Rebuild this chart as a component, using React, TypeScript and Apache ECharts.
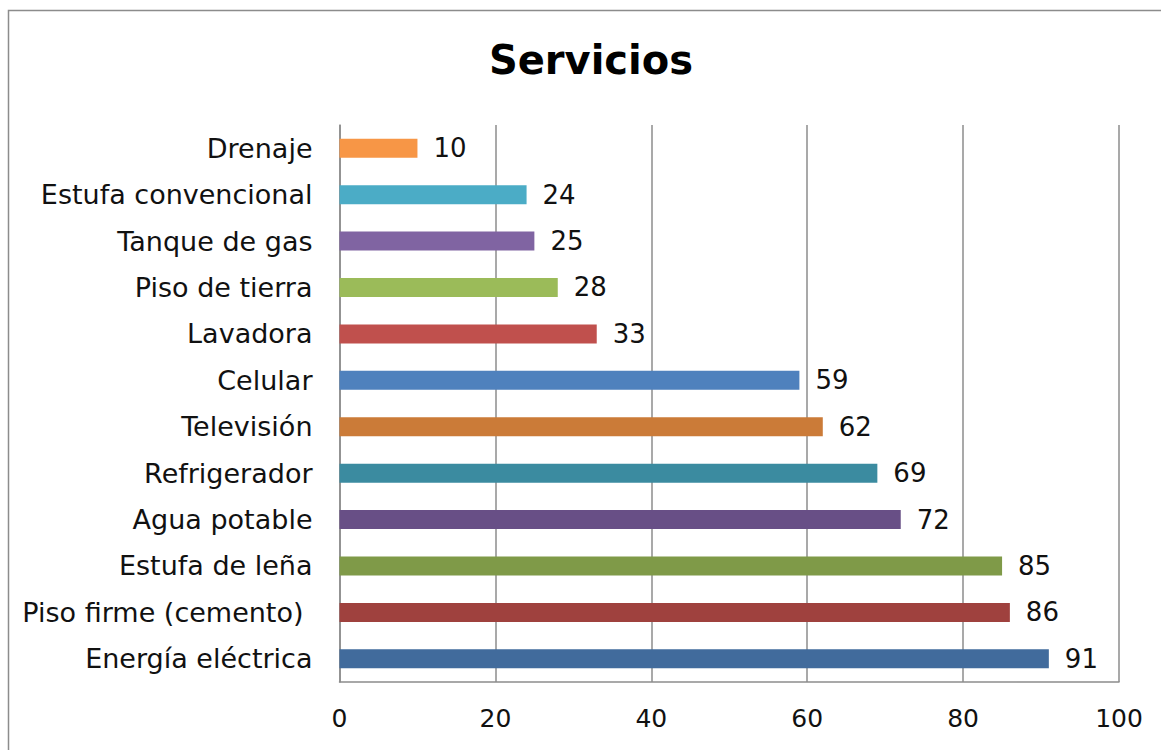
import React, { useEffect, useRef } from "react";
import * as echarts from "echarts";

const categories = [
  "Energía eléctrica",
  "Piso firme (cemento)",
  "Estufa de leña",
  "Agua potable",
  "Refrigerador",
  "Televisión",
  "Celular",
  "Lavadora",
  "Piso de tierra",
  "Tanque de gas",
  "Estufa convencional",
  "Drenaje",
];
const values = [91, 86, 85, 72, 69, 62, 59, 33, 28, 25, 24, 10];
const barColors = [
  "#416B9C",
  "#9F413E",
  "#7F9A48",
  "#684F86",
  "#3B8BA0",
  "#CB7B38",
  "#4F81BD",
  "#C0504D",
  "#9BBB59",
  "#8064A2",
  "#4BACC6",
  "#F79646",
];
const xTicks = [0, 20, 40, 60, 80, 100];

const FONT = "DejaVu Sans";

export default function App() {
  const ref = useRef<HTMLDivElement>(null);
  useEffect(() => {
    if (!ref.current) return;
    const chart = echarts.init(ref.current, null, { renderer: "svg" });
    chart.setOption({
      animation: false,
      backgroundColor: "#ffffff",
      title: {
        text: "Servicios",
        left: 586,
        top: 35,
        textAlign: "center",
        textStyle: { fontFamily: FONT, fontWeight: "bold", fontSize: 40, color: "#000" },
      },
      graphic: [
        {
          type: "rect",
          shape: { x: 8.5, y: 10.5, width: 1300, height: 900 },
          style: { fill: "none", stroke: "#8c8c8c", lineWidth: 1.5 },
          silent: true,
        },
      ],
      grid: { left: 339.5, right: 42, top: 125, bottom: 68, containLabel: false },
      xAxis: {
        type: "value",
        min: xTicks[0],
        max: xTicks[xTicks.length - 1],
        interval: 20,
        axisLine: { show: true, lineStyle: { color: "#8c8c8c", width: 1.5 } },
        axisTick: { show: false },
        splitLine: { show: true, lineStyle: { color: "#8c8c8c", width: 1.5 } },
        axisLabel: { fontFamily: FONT, fontSize: 25, color: "#111", margin: 24 },
      },
      yAxis: {
        type: "category",
        data: categories,
        axisLine: { show: true, lineStyle: { color: "#8c8c8c", width: 1.5 } },
        axisTick: { show: false },
        axisLabel: {
          fontFamily: FONT,
          fontSize: 27,
          color: "#111",
          margin: 27,
          formatter: (v: string) => (v === "Piso firme (cemento)" ? `{pad|${v}}` : v),
          rich: {
            pad: { fontFamily: FONT, fontSize: 27, color: "#111", padding: [0, 9, 0, 0] },
          },
        },
      },
      series: [
        {
          type: "bar",
          barWidth: 19,
          data: values.map((v, i) => ({ value: v, itemStyle: { color: barColors[i] } })),
          label: {
            show: true,
            position: "right",
            distance: 16,
            fontFamily: FONT,
            fontSize: 26,
            color: "#111",
          },
        },
      ],
    });
    return () => chart.dispose();
  }, []);
  return (
    <div
      ref={ref}
      style={{ position: "fixed", left: 0, top: 0, width: 1161, height: 750 }}
    />
  );
}
